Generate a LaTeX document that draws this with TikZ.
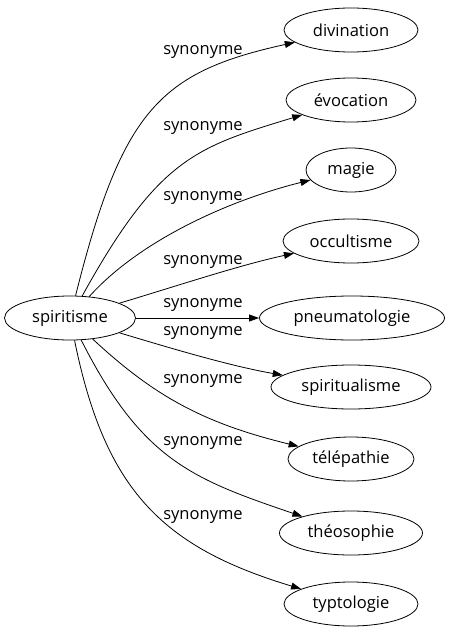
\documentclass[tikz,border=0pt]{standalone}
\usepackage{fontspec}
\setmainfont{Open Sans}
\usetikzlibrary{shapes.geometric, arrows.meta, positioning}

\begin{document}
\begin{tikzpicture}[x=0.75pt, y=-0.75pt]
        % Synonym graph
        \tikzset{
          term/.style={ellipse, draw, line width=0.6pt, inner sep=0, minimum height=44*0.75pt, font=\fontsize{12.4}{14}\selectfont},
          rel/.style={font=\fontsize{12.4}{14}\selectfont, inner sep=0},
          link/.style={line width=0.6pt, -{Triangle[length=7.5pt, width=5.2pt]}}
        }
        \useasboundingbox (0,0) rectangle (449,635);

        % Source
        \node[term, minimum width=131*0.75pt] (spir) at (70, 318) {spiritisme};

        % Targets
        \node[term, minimum width=134*0.75pt] (divi) at (351, 30) {divination};
        \node[term, minimum width=130*0.75pt] (evoc) at (351, 100) {évocation};
        \node[term, minimum width=90*0.75pt] (magi) at (351, 170) {magie};
        \node[term, minimum width=136*0.75pt] (occu) at (351, 241) {occultisme};
        \node[term, minimum width=185*0.75pt] (pneu) at (352, 318) {pneumatologie};
        \node[term, minimum width=160*0.75pt] (spiu) at (351, 387) {spiritualisme};
        \node[term, minimum width=126*0.75pt] (tele) at (351, 459) {télépathie};
        \node[term, minimum width=143*0.75pt] (theo) at (351, 533) {théosophie};
        \node[term, minimum width=134*0.75pt] (typt) at (351, 604) {typtologie};

        % Labels
        \node[rel] (ldivi) at (203, 52) {synonyme};
        \node[rel] (levoc) at (203, 128) {synonyme};
        \node[rel] (lmagi) at (203, 198) {synonyme};
        \node[rel] (loccu) at (203, 262) {synonyme};
        \node[rel] (lpneu) at (203, 305) {synonyme};
        \node[rel] (lspiu) at (203, 333) {synonyme};
        \node[rel] (ltele) at (203, 381) {synonyme};
        \node[rel] (ltheo) at (203, 443) {synonyme};
        \node[rel] (ltypt) at (203, 517) {synonyme};

        % Links
        \draw[link] (spir) .. controls (122, 110) and (160, 72) .. (divi);
        \draw[link] (spir) .. controls (159, 157) and (197, 147) .. (evoc);
        \draw[link] (spir) .. controls (140, 240) and (230, 200) .. (magi);
        \draw[link] (spir) .. controls (180, 285) and (240, 265) .. (occu);
        \draw[link] (spir) -- (pneu);
        \draw[link] (spir) .. controls (170, 348) and (230, 366) .. (spiu);
        \draw[link] (spir) .. controls (153, 395) and (202, 423) .. (tele);
        \draw[link] (spir) .. controls (142, 460) and (192, 479) .. (theo);
        \draw[link] (spir) .. controls (105, 490) and (162, 547) .. (typt);
      \end{tikzpicture}
\end{document}
